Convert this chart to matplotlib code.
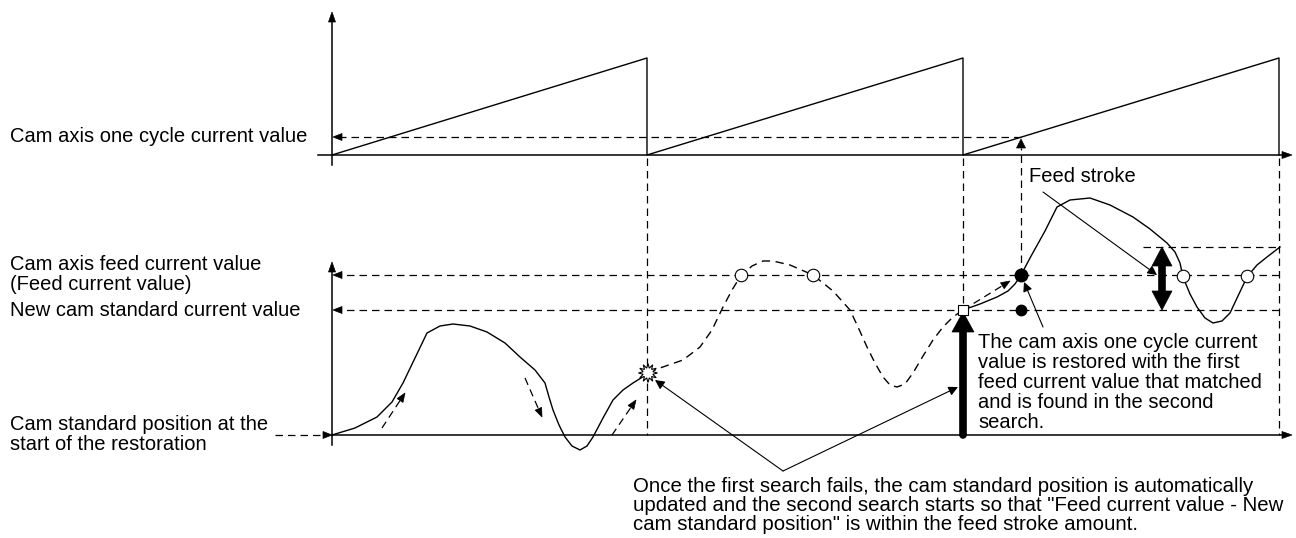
import numpy as np
import matplotlib
matplotlib.use("Agg")
import matplotlib.pyplot as plt
from matplotlib.patches import Polygon

plt.rcParams['font.family'] = ['Liberation Sans', 'DejaVu Sans']

# ---------------- data (diagram units = pixels, y grows downward) ----------------
# top chart: cam axis one cycle current value (sawtooth)
saw_x = [332, 647, 647, 963, 963, 1279, 1279]
saw_y = [155, 58, 155, 58, 155, 58, 155]

# bottom chart: first search (solid)
c1_x = [332, 355, 377, 392, 403, 415, 427, 440, 453, 470, 487, 505, 520, 535, 545, 549, 553, 559, 565, 572, 580, 587, 593, 603, 613, 623, 633, 641, 648]
c1_y = [435, 428, 417, 402, 383, 358, 333, 326, 324, 326, 332, 343, 357, 370, 383, 397, 410, 425, 437, 446, 450, 446, 437, 418, 400, 390, 383, 378, 373]

# second search path (dashed)
c2_x = [648, 660, 683, 700, 712, 723, 732, 740, 752, 763, 773, 790, 813, 833, 850, 858, 867, 875, 883, 890, 897, 905, 913, 923, 933, 943, 953, 963, 990, 1010]
c2_y = [373, 368, 360, 347, 330, 307, 290, 277, 266, 261, 261, 265, 275, 291, 310, 327, 347, 363, 377, 385, 387, 384, 373, 356, 340, 327, 317, 310, 291, 281]

# restored motion (solid)
c3_x = [963, 980, 997, 1008, 1015, 1021, 1030, 1045, 1057, 1070, 1090, 1110, 1133, 1150, 1167, 1175, 1180, 1183, 1190, 1197, 1205, 1213, 1222, 1230, 1238, 1247, 1257, 1267, 1280]
c3_y = [310, 304, 297, 291, 284, 275, 258, 231, 207, 200, 198, 205, 217, 229, 243, 252, 263, 277, 294, 307, 318, 323, 321, 313, 296, 277, 265, 257, 247]

# levels / positions
level_one_cycle = 137
level_feed = 275
level_new_std = 310
level_stroke_top = 247
level_base = 435
cycle_x = [647, 963, 1279]
match_x = 1021

open_circle_x = [741, 813, 1183, 1247]
open_circle_y = [275, 275, 276, 276]

# small dashed guide arrows along the first search curve (start, end)
guide_arrows = [((382, 428), (405, 393)), ((525, 378), (542, 417)), ((612, 435), (636, 400))]

left_labels = [("Cam axis one cycle current value", 137),
               ("Cam axis feed current value", 265),
               ("(Feed current value)", 285),
               ("New cam standard current value", 310),
               ("Cam standard position at the", 424),
               ("start of the restoration", 444)]

note_right = ["The cam axis one cycle current",
              "value is restored with the first",
              "feed current value that matched",
              "and is found in the second",
              "search."]
note_bottom = ["Once the first search fails, the cam standard position is automatically",
               "updated and the second search starts so that \"Feed current value - New",
               "cam standard position\" is within the feed stroke amount."]

# ---------------- drawing ----------------
W, H = 1296, 538
fig = plt.figure(figsize=(W / 100, H / 100), dpi=100)
ax = fig.add_axes([0, 0, 1, 1])
ax.set_xlim(0, W)
ax.set_ylim(H, 0)
ax.axis('off')

K = 'black'
DASH = (0, (6, 4))
LW_AX = 1.1
LW = 0.9
FS = 14.5


def head(tip, direction, L=9, Wd=7, **kw):
    d = np.array(direction, float)
    d = d / np.hypot(*d)
    n = np.array([-d[1], d[0]])
    t = np.array(tip, float)
    b = t - d * L
    pts = [t, b + n * Wd / 2, b - n * Wd / 2]
    ax.add_patch(Polygon(pts, closed=True, facecolor=K, edgecolor=K, lw=0.5, zorder=kw.get('zorder', 5)))


def dashed_arrow(p0, p1, L=9, Wd=7):
    p0 = np.array(p0, float); p1 = np.array(p1, float)
    d = p1 - p0
    u = d / np.hypot(*d)
    end = p1 - u * (L - 1)
    ax.plot([p0[0], end[0]], [p0[1], end[1]], color=K, lw=LW, ls=DASH)
    head(p1, d, L, Wd)


# top axes
ax.plot([332, 332], [165, 20], color=K, lw=LW_AX)
head((332, 12), (0, -1), 10, 7)
ax.plot([318, 1282], [155, 155], color=K, lw=LW_AX)
head((1292, 155), (1, 0), 10, 7)
ax.plot(saw_x, saw_y, color=K, lw=1.0)

# bottom axes
ax.plot([332, 332], [445, 270], color=K, lw=LW_AX)
head((332, 262), (0, -1), 10, 7)
ax.plot([332, 1282], [level_base, level_base], color=K, lw=LW_AX)
head((1292, level_base), (1, 0), 10, 7)

# dashed guides
dashed_arrow((match_x, level_one_cycle), (333, level_one_cycle))
ax.plot([match_x, match_x], [level_feed, 148], color=K, lw=LW, ls=DASH)
head((match_x, 139), (0, -1), 9, 9)
for cx in cycle_x:
    ax.plot([cx, cx], [158, level_base], color=K, lw=LW, ls=DASH)
ax.plot([1279, 333 + 8], [level_feed, level_feed], color=K, lw=LW, ls=DASH)
head((333, level_feed), (-1, 0), 9, 7)
ax.plot([1279, 333 + 8], [level_new_std, level_new_std], color=K, lw=LW, ls=DASH)
head((333, level_new_std), (-1, 0), 9, 7)
ax.plot([1143, 1279], [level_stroke_top, level_stroke_top], color=K, lw=LW, ls=DASH)
dashed_arrow((275, level_base), (332, level_base))

# curves
ax.plot(c1_x, c1_y, color=K, lw=1.0)
ax.plot(c2_x[:-2], c2_y[:-2], color=K, lw=1.0, ls=DASH)
dashed_arrow((c2_x[-3], c2_y[-3]), (c2_x[-1], c2_y[-1]))
ax.plot(c3_x, c3_y, color=K, lw=1.0)

for p0, p1 in guide_arrows:
    dashed_arrow(p0, p1)

# markers
ax.plot(open_circle_x, open_circle_y, ls='none', marker='o', ms=9, mfc='white', mec=K, mew=0.8, zorder=6)
ax.plot([match_x], [level_feed], ls='none', marker='o', ms=9, mfc=K, mec=K, zorder=6)
ax.plot([match_x], [level_new_std], ls='none', marker='o', ms=7.5, mfc=K, mec=K, zorder=6)
ax.plot([963], [level_new_std], ls='none', marker='s', ms=7, mfc='white', mec=K, mew=0.8, zorder=6)

# starburst
ang = np.linspace(0, 2 * np.pi, 25)[:-1]
rad = np.where(np.arange(24) % 2 == 0, 9.5, 5.0)
star = np.column_stack([648 + rad * np.cos(ang), 373 + rad * np.sin(ang)])
ax.add_patch(Polygon(star, closed=True, facecolor='white', edgecolor=K, lw=0.8, zorder=6))

# thick up arrow
ax.plot([963, 963], [level_base, 325], color=K, lw=5.5, solid_capstyle='round', zorder=5)
head((963, 312), (0, -1), 20, 22)

# feed stroke double arrow
sx = 1162
ax.plot([sx, sx], [level_stroke_top + 12, level_new_std - 12], color=K, lw=5.5, zorder=5)
head((sx, level_stroke_top), (0, -1), 19, 20)
head((sx, level_new_std), (0, 1), 19, 20)

# annotation pointer lines
ax.annotate('', xy=(1157, 275), xytext=(1043, 192),
            arrowprops=dict(arrowstyle='-|>', color=K, lw=0.8, mutation_scale=14, shrinkA=0, shrinkB=0))
ax.annotate('', xy=(1024, 282), xytext=(1043, 327),
            arrowprops=dict(arrowstyle='-|>', color=K, lw=0.8, mutation_scale=14, shrinkA=0, shrinkB=0))
ax.annotate('', xy=(655, 380), xytext=(783, 471),
            arrowprops=dict(arrowstyle='-|>', color=K, lw=0.8, mutation_scale=14, shrinkA=0, shrinkB=0))
ax.annotate('', xy=(958, 387), xytext=(783, 471),
            arrowprops=dict(arrowstyle='-|>', color=K, lw=0.8, mutation_scale=14, shrinkA=0, shrinkB=0))

# texts
for s, y in left_labels:
    ax.text(10, y, s, fontsize=FS, va='center', ha='left', color=K)
ax.text(1029, 177, "Feed stroke", fontsize=FS, va='center', ha='left', color=K)
for i, s in enumerate(note_right):
    ax.text(978, 343 + 20 * i, s, fontsize=FS, va='center', ha='left', color=K)
for i, s in enumerate(note_bottom):
    ax.text(633, 487 + 18.5 * i, s, fontsize=FS + 0.2, va='center', ha='left', color=K)

fig.savefig('out.png', dpi=100)
